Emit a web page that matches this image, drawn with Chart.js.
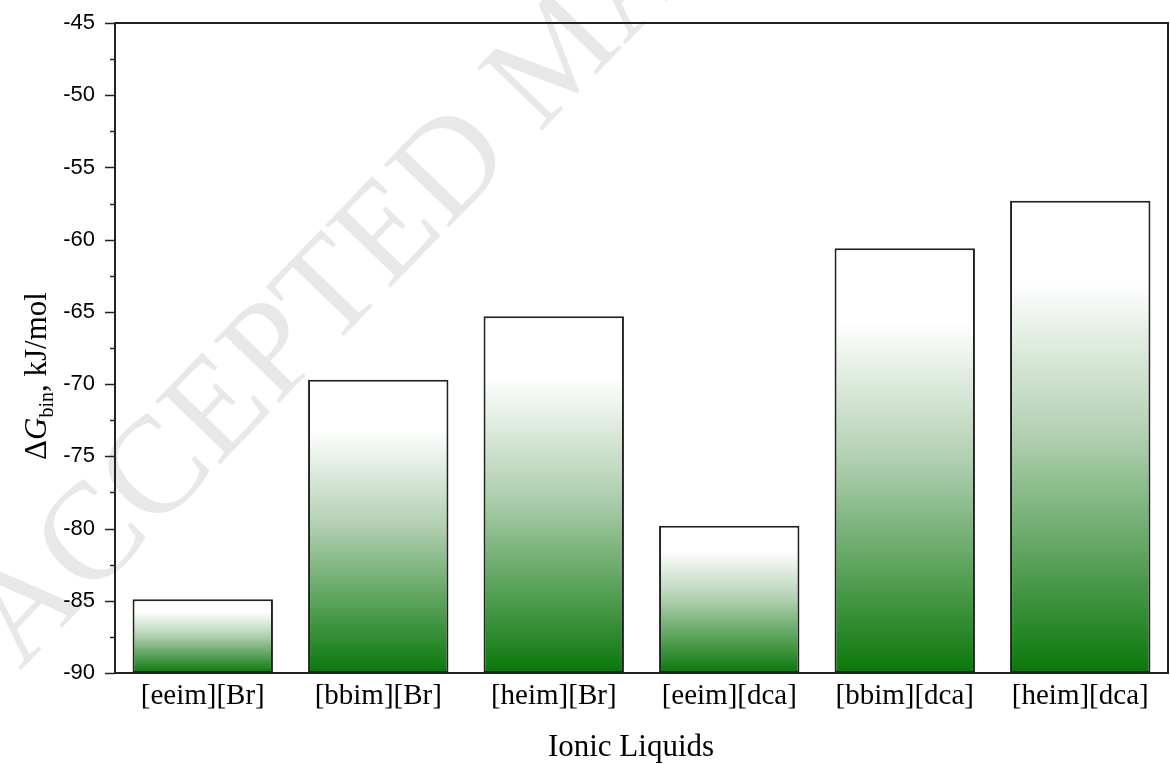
<!DOCTYPE html>
<html>
<head>
<meta charset="utf-8">
<script src="https://cdn.jsdelivr.net/npm/chart.js@4.4.1/dist/chart.umd.min.js"></script>
<style>
  html, body { margin: 0; padding: 0; background: #ffffff; }
  #wrap { width: 1170px; height: 764px; position: relative; }
</style>
</head>
<body>
<div id="wrap"><canvas id="chart" width="1170" height="764"></canvas></div>
<script>
// Binding free energy of each ionic liquid
const categories = ['[eeim][Br]', '[bbim][Br]', '[heim][Br]', '[eeim][dca]', '[bbim][dca]', '[heim][dca]'];
const deltaGbin = [-84.9, -69.7, -65.3, -79.8, -60.6, -57.3];

// Value axis range and tick spacing
const yMin = -90;
const yMax = -45;
const majorStep = 5;
const minorStep = 2.5;

const xTitle = 'Ionic Liquids';
const watermark = 'ACCEPTED MANUSCRIPT';

const serif = '"Liberation Serif", "Times New Roman", serif';
const sans = '"Liberation Sans", Arial, sans-serif';

// Vertical white-to-green fill for each bar, spanning from its top to the axis base
function barGradient(context) {
  const chart = context.chart;
  const { chartArea, scales } = chart;
  if (!chartArea || !scales.y || context.type !== 'data') return '#0b7a0b';
  const top = scales.y.getPixelForValue(context.raw);
  const bottom = scales.y.getPixelForValue(yMin);
  const g = chart.ctx.createLinearGradient(0, top, 0, bottom);
  g.addColorStop(0, '#ffffff');
  g.addColorStop(0.17, '#ffffff');
  g.addColorStop(0.5, '#b0cfb0');
  g.addColorStop(1, '#0a780a');
  return g;
}

// Faint diagonal watermark behind the plot
const watermarkPlugin = {
  id: 'watermark',
  beforeDraw(chart) {
    const ctx = chart.ctx;
    ctx.save();
    ctx.translate(-6, 646);
    ctx.rotate(-46 * Math.PI / 180);
    ctx.font = '138px ' + serif;
    ctx.fillStyle = 'rgba(0,0,0,0.09)';
    ctx.textAlign = 'left';
    ctx.textBaseline = 'middle';
    ctx.fillText(watermark, 0, 0);
    ctx.restore();
  }
};

// Frame, major/minor tick marks and axis titles
const framePlugin = {
  id: 'frame',
  afterDraw(chart) {
    const ctx = chart.ctx;
    const a = chart.chartArea;
    const y = chart.scales.y;
    ctx.save();
    ctx.strokeStyle = '#222222';
    ctx.lineWidth = 2;
    ctx.strokeRect(a.left, a.top, a.right - a.left, a.bottom - a.top);

    ctx.lineWidth = 1.5;
    ctx.beginPath();
    for (let v = yMin; v <= yMax + 1e-9; v += minorStep) {
      const py = Math.round(y.getPixelForValue(v)) + 0.5;
      const isMajor = Math.abs(v / majorStep - Math.round(v / majorStep)) < 1e-6;
      const len = isMajor ? 10 : 5;
      ctx.moveTo(a.left - len, py);
      ctx.lineTo(a.left, py);
    }
    ctx.stroke();

    // x-axis title
    ctx.fillStyle = '#000000';
    ctx.font = '31px ' + serif;
    ctx.textAlign = 'center';
    ctx.textBaseline = 'alphabetic';
    ctx.fillText(xTitle, 631, 756);

    // y-axis title: ΔG with subscript "bin", then the unit
    const parts = [
      { t: '\u0394', font: '31px ' + serif, dy: 0 },
      { t: 'G', font: 'italic 31px ' + serif, dy: 0 },
      { t: 'bin', font: '20px ' + serif, dy: 7 },
      { t: ', kJ/mol', font: '31px ' + serif, dy: 0 }
    ];
    let total = 0;
    parts.forEach(p => { ctx.font = p.font; p.w = ctx.measureText(p.t).width; total += p.w; });
    ctx.translate(46, 376);
    ctx.rotate(-Math.PI / 2);
    ctx.textAlign = 'left';
    let x = -total / 2;
    parts.forEach(p => {
      ctx.font = p.font;
      ctx.fillText(p.t, x, p.dy);
      x += p.w;
    });
    ctx.restore();
  }
};

new Chart(document.getElementById('chart'), {
  type: 'bar',
  data: {
    labels: categories,
    datasets: [{
      data: deltaGbin,
      base: yMin,
      backgroundColor: barGradient,
      borderColor: '#222222',
      borderWidth: 2,
      borderSkipped: false,
      categoryPercentage: 1.0,
      barPercentage: 0.8
    }]
  },
  options: {
    responsive: false,
    animation: false,
    devicePixelRatio: 1,
    layout: { autoPadding: false, padding: { top: 23, right: 2, left: 0, bottom: 0 } },
    plugins: { legend: { display: false }, tooltip: { enabled: false } },
    scales: {
      x: {
        grid: { display: false, drawTicks: false },
        border: { display: true, color: '#222222', width: 2 },
        ticks: { color: '#000000', font: { family: serif, size: 29 }, padding: 6, maxRotation: 0 },
        afterFit(s) { s.height = 91; s.paddingLeft = 0; s.paddingRight = 0; }
      },
      y: {
        min: yMin,
        max: yMax,
        grid: { display: false, drawTicks: false },
        border: { display: true, color: '#222222', width: 2 },
        ticks: { stepSize: majorStep, color: '#000000', font: { family: sans, size: 22 }, padding: 20 },
        afterFit(s) { s.width = 115; s.paddingTop = 0; s.paddingBottom = 0; }
      }
    }
  },
  plugins: [watermarkPlugin, framePlugin]
});
</script>
</body>
</html>
